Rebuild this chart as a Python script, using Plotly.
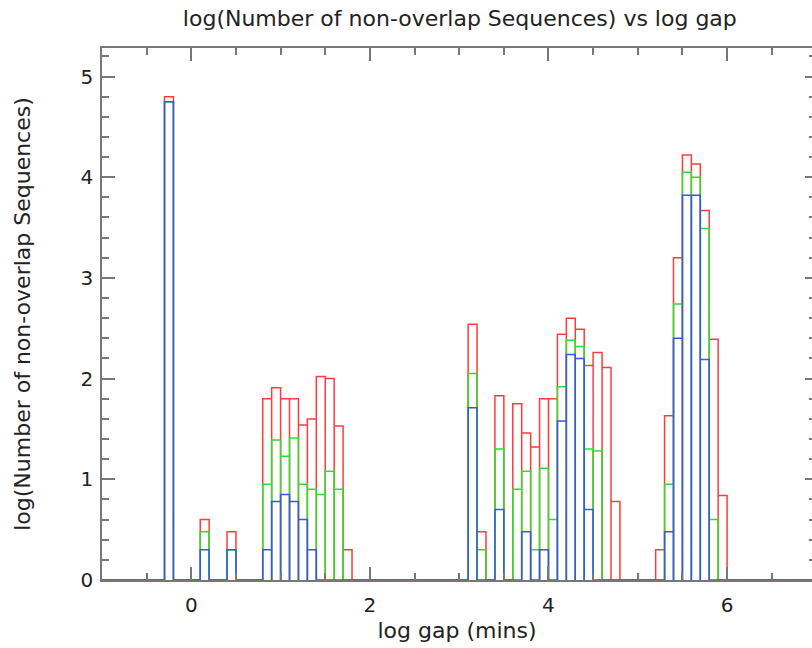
import plotly.graph_objects as go

# ---- data ----
bin_width = 0.1
bin_left = [-0.3, 0.1, 0.4, 0.8, 0.9, 1.0, 1.1, 1.2, 1.3, 1.4, 1.5, 1.6, 1.7,
            3.1, 3.2, 3.4, 3.6, 3.7, 3.8, 3.9, 4.0, 4.1, 4.2, 4.3, 4.4, 4.5, 4.6, 4.7,
            5.2, 5.3, 5.4, 5.5, 5.6, 5.7, 5.8, 5.9]
red_log = [4.80, 0.60, 0.48, 1.80, 1.91, 1.80, 1.80, 1.54, 1.60, 2.02, 2.00, 1.53, 0.30,
           2.54, 0.48, 1.83, 1.75, 1.46, 1.32, 1.80, 1.80, 2.44, 2.60, 2.49, 2.13, 2.26, 2.11, 0.78,
           0.30, 1.63, 3.20, 4.22, 4.13, 3.67, 2.39, 0.84]
green_log = [4.75, 0.48, 0.30, 0.95, 1.39, 1.23, 1.41, 0.95, 0.90, 0.85, 1.08, 0.90, 0.0,
             2.05, 0.30, 1.30, 0.90, 1.08, 0.30, 1.11, 0.60, 1.92, 2.38, 2.32, 1.30, 1.28, 0.0, 0.0,
             0.0, 0.95, 2.74, 4.05, 4.00, 3.49, 0.60, 0.0]
blue_log = [4.75, 0.30, 0.30, 0.30, 0.78, 0.85, 0.78, 0.60, 0.30, 0.0, 0.0, 0.0, 0.0,
            1.71, 0.0, 0.70, 0.0, 0.48, 0.0, 0.30, 0.0, 1.58, 2.24, 2.20, 0.70, 0.0, 0.0, 0.0,
            0.0, 0.48, 2.40, 3.82, 3.82, 2.19, 0.0, 0.0]
x_min, x_max = -1.0, 7.0

title_text = "log(Number of non-overlap Sequences) vs log gap"
x_title = "log gap (mins)"
y_title = "log(Number of non-overlap Sequences)"


def outline(lefts, vals):
    xs, ys = [x_min], [0.0]
    for l, v in zip(lefts, vals):
        if v <= 0:
            continue
        r = round(l + bin_width, 6)
        xs += [l, l, r, r]
        ys += [0.0, v, v, 0.0]
    xs.append(x_max)
    ys.append(0.0)
    return xs, ys


fig = go.Figure()
for vals, col, yax in [(red_log, "rgb(255,60,60)", "y"),
                       (green_log, "rgb(40,225,40)", "y"),
                       (blue_log, "rgb(50,90,230)", "y2")]:
    xs, ys = outline(bin_left, vals)
    fig.add_trace(go.Scatter(x=xs, y=ys, mode="lines", yaxis=yax,
                             line=dict(color=col, width=1.5),
                             hoverinfo="skip", showlegend=False))

yr = [0, 5.283]
axcol = "#777777"
font = dict(family="DejaVu Sans", size=20, color="#222222")
tfont = dict(family="DejaVu Sans", size=22, color="#222222")

fig.update_layout(
    width=812, height=648,
    margin=dict(l=102, r=0, t=48, b=68),
    paper_bgcolor="white", plot_bgcolor="white",
    font=font,
    title=dict(text=title_text, x=0.504, xref="paper", xanchor="center",
               y=1 - 18 / 648, yref="container", yanchor="middle",
               font=tfont),
    xaxis=dict(range=[x_min, 6.951], tick0=0, dtick=2, ticks="inside", ticklen=13,
               tickwidth=1.5, tickcolor=axcol, showline=True, linecolor=axcol,
               linewidth=1.5, mirror="ticks", showgrid=False, zeroline=False,
               minor=dict(tick0=0, dtick=0.5, ticks="inside", ticklen=7,
                          tickwidth=1.5, tickcolor=axcol, showgrid=False),
               ticklabelstandoff=6,
               title=dict(text=x_title, standoff=7, font=tfont), tickfont=font),
    yaxis=dict(range=yr, tick0=0, dtick=1, ticks="inside", ticklen=13,
               tickwidth=1.5, tickcolor=axcol, showline=True, linecolor=axcol,
               linewidth=1.5, mirror=False, showgrid=False, zeroline=False,
               minor=dict(tick0=0, dtick=0.2, ticks="inside", ticklen=7,
                          tickwidth=1.5, tickcolor=axcol, showgrid=False),
               ticklabelstandoff=3,
               title=dict(text=y_title, standoff=44, font=tfont), tickfont=font),
    yaxis2=dict(range=yr, overlaying="y", side="right", anchor="x",
                tick0=0, dtick=1, ticks="inside", ticklen=7, tickwidth=1.5,
                tickcolor=axcol, showline=True, linecolor=axcol, linewidth=1.5,
                showticklabels=False, showgrid=False, zeroline=False,
                minor=dict(tick0=0, dtick=0.2, ticks="inside", ticklen=3,
                           tickwidth=1.5, tickcolor=axcol, showgrid=False)),
)

fig.write_html("out.html")
